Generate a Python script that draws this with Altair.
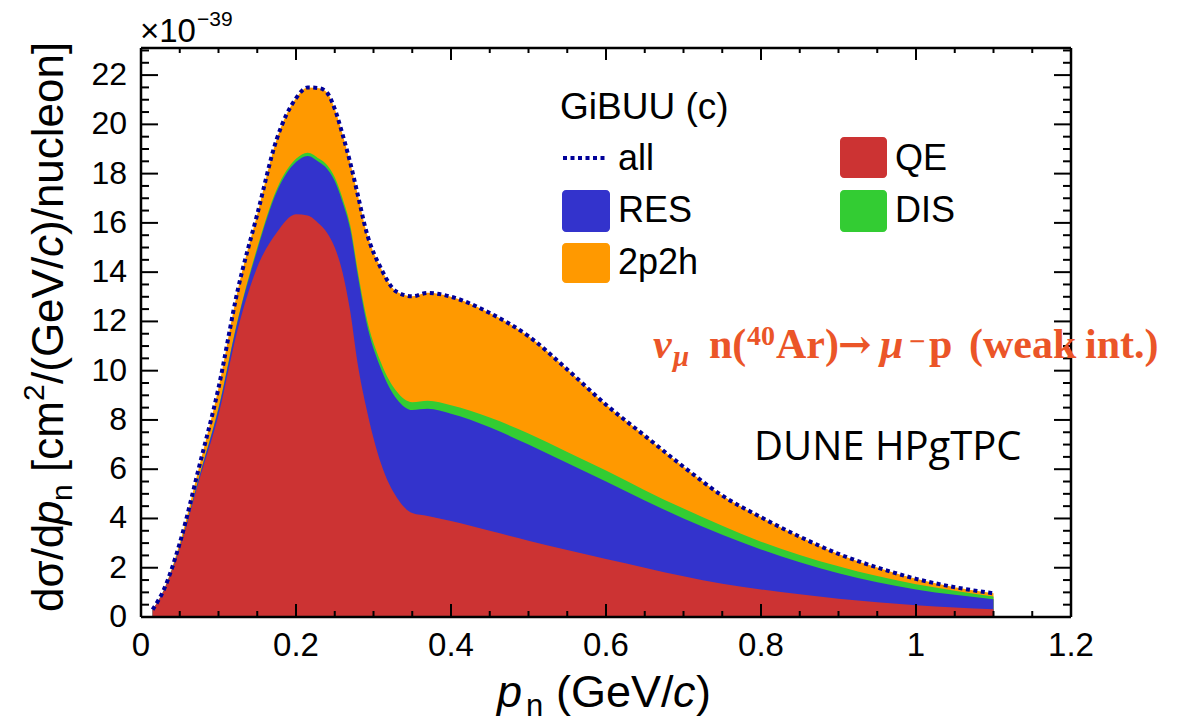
import altair as alt
import pandas as pd

# Neutron momentum bins (GeV/c) and GiBUU cross-section components (x 1e-39 cm^2/(GeV/c)/nucleon)
p_n = [0.015, 0.03, 0.05, 0.075, 0.1, 0.125, 0.15, 0.175, 0.2, 0.215,
       0.23, 0.24, 0.25, 0.26, 0.27, 0.28, 0.29, 0.31, 0.33, 0.35,
       0.37, 0.4, 0.45, 0.5, 0.55, 0.6, 0.65, 0.7, 0.75, 0.8,
       0.85, 0.9, 0.95, 1.0, 1.05, 1.1]
qe = [0.29, 1.09, 2.80, 5.55, 8.20, 11.7, 14.2, 15.6, 16.35, 16.3,
      15.95, 15.6, 15.0, 14.0, 12.4, 10.2, 8.6, 6.2, 4.85, 4.22,
      4.1, 3.9, 3.5, 3.1, 2.72, 2.35, 2.0, 1.65, 1.35, 1.12,
      0.92, 0.74, 0.6, 0.48, 0.39, 0.31]
res = [0.005, 0.02, 0.05, 0.12, 0.25, 0.35, 0.7, 1.65, 2.12, 2.42,
       2.51, 2.6, 2.7, 2.85, 3.34, 3.62, 3.5, 3.85, 4.0, 4.18,
       4.35, 4.35, 4.2, 3.9, 3.53, 3.15, 2.73, 2.35, 1.99, 1.62,
       1.3, 1.04, 0.81, 0.64, 0.51, 0.41]
dis = [0.0, 0.0, 0.01, 0.02, 0.04, 0.05, 0.1, 0.11, 0.13, 0.13,
       0.14, 0.15, 0.15, 0.15, 0.16, 0.18, 0.2, 0.25, 0.3, 0.32,
       0.33, 0.35, 0.4, 0.45, 0.45, 0.45, 0.42, 0.4, 0.36, 0.32,
       0.3, 0.28, 0.25, 0.21, 0.17, 0.11]
two_p2h = [0.005, 0.04, 0.14, 0.41, 0.81, 1.2, 1.35, 2.03, 2.46, 2.65,
           2.87, 2.94, 2.78, 2.6, 2.54, 3.1, 3.44, 3.83, 4.05, 4.3,
           4.38, 4.4, 4.24, 3.95, 3.35, 2.67, 2.21, 1.7, 1.23, 0.99,
           0.74, 0.5, 0.35, 0.22, 0.14, 0.13]

x_ticks_major = [0, 0.2, 0.4, 0.6, 0.8, 1.0, 1.2]
y_ticks_major = list(range(0, 23, 2))

COL_QE, COL_RES, COL_DIS, COL_MEC, COL_ALL = "#cc3333", "#3333cc", "#33cc33", "#ff9900", "#000099"
ANNOT = "#eb5528"
SANS = "Liberation Sans"
SERIF = "Liberation Serif"

# stacked boundaries: QE, +RES, +DIS, +2p2h
df = pd.DataFrame({"p": p_n, "qe": qe, "res": res, "dis": dis, "mec": two_p2h})
df["s_res"] = df["qe"] + df["res"]
df["s_dis"] = df["s_res"] + df["dis"]
df["total"] = df["s_dis"] + df["mec"]

W, H = 930, 569
OX, OY = 141, 48  # plot origin on the page

xs = alt.Scale(domain=[0, 1.2], nice=False, zero=False)
ys = alt.Scale(domain=[0, 23.1], nice=False, zero=False)


def band(field, color):
    return alt.Chart(df).mark_area(interpolate="monotone", color=color, opacity=1).encode(
        x=alt.X("p:Q", scale=xs, axis=None),
        y=alt.Y(f"{field}:Q", scale=ys, axis=None),
    )


areas = [band("total", COL_MEC), band("s_dis", COL_DIS), band("s_res", COL_RES), band("qe", COL_QE)]

total_line = alt.Chart(df).mark_line(
    interpolate="monotone", color=COL_ALL, strokeWidth=4, strokeDash=[4, 3.5], strokeCap="butt"
).encode(x=alt.X("p:Q", scale=xs, axis=None), y=alt.Y("total:Q", scale=ys, axis=None))

# inward-pointing ticks on all four sides
x_minor = [round(i * 0.05, 2) for i in range(25) if i % 4]
y_minor = [i * 0.5 for i in range(47) if i % 4]


def xticks(vals, length, top):
    y0, y1 = (0, length) if top else (H, H - length)
    return alt.Chart(pd.DataFrame({"t": vals})).mark_rule(color="black", strokeWidth=2).encode(
        x=alt.X("t:Q", scale=xs, axis=None), y=alt.value(y0), y2=alt.value(y1))


def yticks(vals, length, right):
    x0, x1 = (W, W - length) if right else (0, length)
    return alt.Chart(pd.DataFrame({"t": vals})).mark_rule(color="black", strokeWidth=2).encode(
        y=alt.Y("t:Q", scale=ys, axis=None), x=alt.value(x0), x2=alt.value(x1))


ticks = [
    xticks(x_ticks_major, 13, False), xticks(x_minor, 6, False),
    xticks(x_ticks_major, 12, True), xticks(x_minor, 5, True),
    yticks(y_ticks_major, 17, False), yticks(y_minor, 8, False),
    yticks(y_ticks_major, 17, True), yticks(y_minor, 8, True),
]

# tick labels
x_labels = alt.Chart(pd.DataFrame({"t": x_ticks_major})).mark_text(
    align="center", baseline="alphabetic", font=SANS, fontSize=33, color="black"
).encode(x=alt.X("t:Q", scale=xs, axis=None), y=alt.value(656 - OY), text=alt.Text("t:Q", format="~g"))

y_labels = alt.Chart(pd.DataFrame({"t": y_ticks_major})).mark_text(
    align="right", baseline="middle", font=SANS, fontSize=32, color="black"
).encode(y=alt.Y("t:Q", scale=ys, axis=None), x=alt.value(127 - OX), text=alt.Text("t:Q", format="d"))

one = pd.DataFrame({"k": [0]})


def rule(x0, y0, x1, y1, color="black", width=2.5, dash=None):
    kw = dict(color=color, strokeWidth=width)
    if dash:
        kw.update(strokeDash=dash, strokeCap="butt")
    return alt.Chart(one).mark_rule(**kw).encode(
        x=alt.value(x0), y=alt.value(y0), x2=alt.value(x1), y2=alt.value(y1))


frame = [rule(0, H, W, H), rule(0, 0, W, 0), rule(0, 0, 0, H), rule(W, 0, W, H)]


def label(text, px, py, size, font=SANS, color="black", style="normal", weight="normal", angle=0):
    return alt.Chart(one).mark_text(
        text=text, align="left", baseline="alphabetic", font=font, fontSize=size,
        fontStyle=style, fontWeight=weight, color=color, angle=angle,
    ).encode(x=alt.value(px - OX), y=alt.value(py - OY))


def box(px0, py0, px1, py1, color):
    return alt.Chart(one).mark_rect(color=color, cornerRadius=4).encode(
        x=alt.value(px0 - OX), x2=alt.value(px1 - OX), y=alt.value(py0 - OY), y2=alt.value(py1 - OY))


legend = [
    label("GiBUU (c)", 560, 119, 37),
    rule(563 - OX, 158 - OY, 605 - OX, 158 - OY, color=COL_ALL, width=4, dash=[4, 3.5]),
    label("all", 618, 170, 36),
    box(840, 137, 887, 178, COL_QE), label("QE", 895, 170, 36),
    box(562, 190, 610, 232, COL_RES), label("RES", 618, 222, 36),
    box(840, 190, 887, 232, COL_DIS), label("DIS", 895, 222, 36),
    box(562, 243, 610, 283, COL_MEC), label("2p2h", 618, 274, 36),
]

# reaction annotation
RS = 42
reaction = [
    label("ν", 653, 358, RS, font=SERIF, color=ANNOT, style="italic", weight="bold"),
    label("μ", 673, 366, 29, font=SERIF, color=ANNOT, style="italic", weight="bold"),
    label("n(", 709, 358, RS, font=SERIF, color=ANNOT, weight="bold"),
    label("40", 747, 345, 28, font=SERIF, color=ANNOT, weight="bold"),
    label("Ar)", 776, 358, RS, font=SERIF, color=ANNOT, weight="bold"),
    label("→", 838, 358, 40, font="DejaVu Serif", color=ANNOT, weight="bold"),
    label("μ", 880, 358, RS, font=SERIF, color=ANNOT, style="italic", weight="bold"),
    label("−", 909, 351, 29, font=SERIF, color=ANNOT, weight="bold"),
    label("p", 929, 358, RS, font=SERIF, color=ANNOT, weight="bold"),
    label("(weak", 969, 358, RS, font=SERIF, color=ANNOT, weight="bold"),
    label("int.)", 1085, 358, RS, font=SERIF, color=ANNOT, weight="bold"),
]

detector = [label("DUNE HPgTPC", 754, 460, 40, font="Open Sans")]

# exponent above the y axis
exponent = [label("×10", 140, 42, 33), label("−39", 197, 26, 21)]

# axis titles
x_title = [
    label("p", 497, 707, 45, style="italic"),
    label("n", 526, 716, 31),
    label("(GeV/", 556, 707, 45),
    label("c", 673, 707, 45, style="italic"),
    label(")", 696, 707, 45),
]
yb = 63  # baseline of the rotated y title
y_title = [
    label("dσ/d", yb, 612, 44, angle=270),
    label("p", yb, 525, 44, style="italic", angle=270),
    label("n", yb + 9, 501, 30, angle=270),
    label("[cm", yb, 472, 44, angle=270),
    label("2", yb - 19, 401, 30, angle=270),
    label("/(GeV/", yb, 384, 44, angle=270),
    label("c", yb, 257, 44, style="italic", angle=270),
    label(")/nucleon]", yb, 235, 44, angle=270),
]

chart = alt.layer(
    *areas, total_line, *ticks, *frame, x_labels, y_labels,
    *legend, *reaction, *detector, *exponent, *x_title, *y_title
).properties(
    width=W, height=H,
    padding={"left": OX, "top": OY, "right": 1185 - OX - W, "bottom": 726 - OY - H},
    autosize=alt.AutoSizeParams(type="none"),
    background="white",
).configure_view(stroke=None)

chart.save("out.html", embed_options={"renderer": "svg", "actions": False})
